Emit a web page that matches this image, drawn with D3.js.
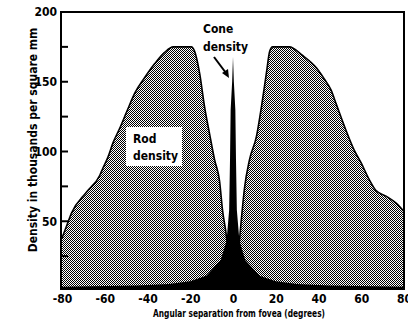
<!DOCTYPE html>
<html><head><meta charset="utf-8">
<script src="https://cdn.jsdelivr.net/npm/d3@7"></script>
<style>
html,body{margin:0;padding:0;background:#fff;}
svg{display:block;}
text{font-family:"DejaVu Sans Condensed","Liberation Sans Narrow",sans-serif;font-weight:bold;fill:#000;}
</style></head>
<body>
<script>
const rodAngles = [-80,-78,-75.5,-68.5,-62.3,-60.9,-58.5,-56.2,-52.9,-49.6,-45.9,-41.3,-36.6,-32,-28,-19.5,-18,-15.6,-13.3,-11,-8.6,-6.3,-4.9,-3,-2.2,-1,0,1,2,3,4,5.4,7.7,11,13.3,15.6,17.2,18.5,26.3,32.4,39,42.7,45.9,48.3,52.9,56.7,59.9,63.7,66.9,71.6,76.3,80];
const rodValues = [38,46,56,71,83,88,96,106,117,129,142,153,163,171,175,175,172,156,132,113,94,79,58,38,24,8,0,8,22,36,53,74,94,111,132,156,172,175,175,169,160,152,144,134,115,101,92,80,72,68,63,57];
const coneAngles = [-80,-45,-30,-20,-12.5,-5.8,-3,-1.8,-1.4,-1.1,-0.4,0,0.4,1.1,1.4,1.8,3,5.8,12.5,20,30,45,80];
const coneValues = [3,4,5,7,11,22,36,58,94,130,150,168,150,130,94,58,36,22,11,7,5,4,3];
const xTicks = [-80,-60,-40,-20,0,20,40,60,80];
const yTicks = [50,100,150,200];
const yMinorTicks = [25,75,125,175];

const W=408,H=319;
const svg=d3.select("body").append("svg").attr("width",W).attr("height",H);
const x=d3.scaleLinear().domain([-80,80]).range([62,404]);
const y=d3.scaleLinear().domain([0,200]).range([291,12]);
const bottom=289;

const defs=svg.append("defs");
const pat=defs.append("pattern").attr("id","dots").attr("patternUnits","userSpaceOnUse").attr("width",2).attr("height",2);
pat.append("rect").attr("width",2).attr("height",2).attr("fill","#fff");
pat.append("rect").attr("x",0).attr("y",0).attr("width",1).attr("height",1).attr("fill","#000");
pat.append("rect").attr("x",1).attr("y",1).attr("width",1).attr("height",1).attr("fill","#000");
defs.append("clipPath").attr("id","clip").append("rect").attr("x",62).attr("y",12).attr("width",342).attr("height",bottom-12);

const rod=rodAngles.map((a,i)=>[a,rodValues[i]]);
const cone=coneAngles.map((a,i)=>[a,coneValues[i]]);

const g=svg.append("g").attr("clip-path","url(#clip)");
const area=d3.area().x(d=>x(d[0])).y0(bottom).y1(d=>y(d[1])).curve(d3.curveMonotoneX);
const line=d3.line().x(d=>x(d[0])).y(d=>y(d[1])).curve(d3.curveMonotoneX);
g.append("path").datum(rod).attr("d",area).attr("fill","url(#dots)").attr("shape-rendering","crispEdges");
g.append("path").datum(rod).attr("d",line).attr("fill","none").attr("stroke","#000").attr("stroke-width",1.6);
const coneArea=d3.area().x(d=>x(d[0])).y0(bottom).y1(d=>y(d[1])).curve(d3.curveLinear);
g.append("path").datum(cone).attr("d",coneArea).attr("fill","#000");

// frame
svg.append("line").attr("x1",61).attr("x2",405).attr("y1",12).attr("y2",12).attr("stroke","#000").attr("stroke-width",2);
svg.append("line").attr("x1",404).attr("x2",404).attr("y1",11).attr("y2",bottom+1).attr("stroke","#000").attr("stroke-width",2);
svg.append("line").attr("x1",61).attr("x2",61).attr("y1",11).attr("y2",bottom+1).attr("stroke","#000").attr("stroke-width",2);
svg.append("line").attr("x1",60).attr("x2",405).attr("y1",bottom).attr("y2",bottom).attr("stroke","#000").attr("stroke-width",2);

// y axis
const yAxis=d3.axisLeft(y).tickValues(yTicks).tickSize(0).tickPadding(4);
const ya=svg.append("g").attr("transform","translate(61,0)").call(yAxis);
ya.select(".domain").remove();
ya.selectAll("text").style("font-size","12px").style("font-family",null);
svg.selectAll(".ytick").data(yTicks.concat(yMinorTicks)).enter().append("line")
  .attr("x1",61).attr("x2",68).attr("y1",d=>y(d)).attr("y2",d=>y(d)).attr("stroke","#000").attr("stroke-width",2);

// x axis
const xAxis=d3.axisBottom(x).tickValues(xTicks).tickSize(0).tickPadding(4).tickFormat(d=>d<0?"-"+Math.abs(d):d);
const xa=svg.append("g").attr("transform","translate(0,"+(bottom+1)+")").call(xAxis);
xa.select(".domain").remove();
xa.selectAll("text").style("font-size","12px").style("font-family",null);

svg.append("text").attr("x",153).attr("y",317).attr("textLength",172).attr("lengthAdjust","spacingAndGlyphs").style("font-size","10px").text("Angular separation from fovea (degrees)");
svg.append("text").attr("transform","translate(37,140) rotate(-90)").attr("text-anchor","middle").style("font-size","12px").text("Density in thousands per square mm");

// rod label
svg.append("rect").attr("x",126).attr("y",127).attr("width",56).attr("height",39).attr("fill","#fff");
svg.append("text").attr("x",133).attr("y",143).style("font-size","12px").text("Rod");
svg.append("text").attr("x",133).attr("y",160).style("font-size","12px").text("density");

// cone label
svg.append("text").attr("x",203).attr("y",33).style("font-size","12px").text("Cone");
svg.append("text").attr("x",203).attr("y",51).style("font-size","12px").text("density");
svg.append("line").attr("x1",214).attr("y1",57).attr("x2",226).attr("y2",73).attr("stroke","#000").attr("stroke-width",2);
svg.append("path").attr("d","M229,78 L222,73 L228,69 Z").attr("fill","#000");
</script>
</body></html>
